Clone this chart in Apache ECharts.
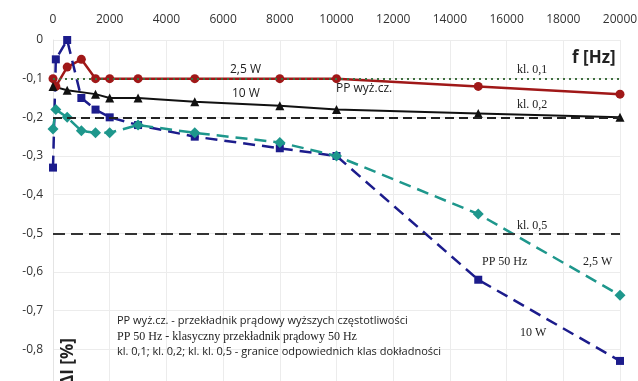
<!DOCTYPE html>
<html>
<head>
<meta charset="utf-8">
<script src="https://cdn.jsdelivr.net/npm/echarts@6/dist/echarts.min.js"></script>
<style>
  html, body { margin: 0; padding: 0; background: #fff; }
  #container1 { width: 638px; height: 381px; }
</style>
</head>
<body>
<div id="container1"></div>
<script>
// pomiary: f [Hz] i blad pradowy dI [%]
var wyzF25 = [0, 100, 500, 1000, 1500, 2000, 3000, 5000, 8000, 10000, 15000, 20000];
var wyzV25 = [-0.10, -0.12, -0.07, -0.05, -0.10, -0.10, -0.10, -0.10, -0.10, -0.10, -0.12, -0.14];

var wyzF10 = [0, 500, 1500, 2000, 3000, 5000, 8000, 10000, 15000, 20000];
var wyzV10 = [-0.12, -0.13, -0.14, -0.15, -0.15, -0.16, -0.17, -0.18, -0.19, -0.20];

var hz50F10 = [0, 100, 500, 1000, 1500, 2000, 3000, 5000, 8000, 10000, 15000, 20000];
var hz50V10 = [-0.33, -0.05, 0.0, -0.15, -0.18, -0.20, -0.22, -0.25, -0.28, -0.30, -0.62, -0.83];

var hz50F25 = [0, 100, 500, 1000, 1500, 2000, 3000, 5000, 8000, 10000, 15000, 20000];
var hz50V25 = [-0.23, -0.18, -0.20, -0.235, -0.24, -0.24, -0.22, -0.24, -0.265, -0.30, -0.45, -0.66];

var klasy = [-0.1, -0.2, -0.5];

function pary(f, v) {
    return f.map(function (x, i) { return [x, v[i]]; });
}

var dom = document.getElementById("container1");
var myChart = echarts.init(dom);

var serif = '"Liberation Serif", "DejaVu Serif", serif';
var sans = '"Open Sans", "DejaVu Sans", sans-serif';

function napis(x, y, t, font, size, extra) {
    var s = { text: t, fill: '#222', font: (extra || '') + ' ' + size + 'px ' + font };
    return { type: 'text', left: x, top: y, style: s, z: 10 };
}

var option = {
    animation: false,
    grid: { left: 53, right: 18, top: 40, height: 348, outerBoundsMode: 'none' },
    xAxis: {
        type: 'value', position: 'top', min: 0, max: 20000, interval: 2000,
        axisLine: { show: false }, axisTick: { show: false },
        axisLabel: {
            color: '#333', fontSize: 12, fontFamily: sans, margin: 14,
            formatter: function (v) { return String(v); }
        },
        splitLine: { lineStyle: { color: '#ececec' } }
    },
    yAxis: {
        type: 'value', min: -0.9, max: 0, interval: 0.1,
        axisLine: { show: true, onZero: false, lineStyle: { color: '#e4e4e4' } },
        axisTick: { show: false },
        axisLabel: {
            color: '#333', fontSize: 12, fontFamily: sans, margin: 10,
            formatter: function (v) { return Math.abs(v) < 1e-9 ? '0' : v.toFixed(1).replace('.', ','); }
        },
        splitLine: { lineStyle: { color: '#ececec' } }
    },
    series: [
        {
            name: 'granice', type: 'line', data: [], silent: true,
            markLine: {
                symbol: 'none', label: { show: false },
                data: [
                    { yAxis: klasy[0], lineStyle: { color: '#3f6f3f', type: [2, 4], width: 2 } },
                    { yAxis: klasy[1], lineStyle: { color: '#222', type: [9, 5], width: 2 } },
                    { yAxis: klasy[2], lineStyle: { color: '#333', type: [12, 6], width: 2 } }
                ]
            }
        },
        {
            name: 'PP wyz.cz. 2,5 W', type: 'line', data: pary(wyzF25, wyzV25),
            symbol: 'circle', symbolSize: 9,
            lineStyle: { color: '#a01818', width: 2.5 }, itemStyle: { color: '#a01818' }
        },
        {
            name: 'PP wyz.cz. 10 W', type: 'line', data: pary(wyzF10, wyzV10),
            symbol: 'triangle', symbolSize: 9,
            lineStyle: { color: '#111', width: 2 }, itemStyle: { color: '#111' }
        },
        {
            name: 'PP 50 Hz 10 W', type: 'line', data: pary(hz50F10, hz50V10),
            symbol: 'rect', symbolSize: 8,
            lineStyle: { color: '#1c1c8c', width: 2.5, type: [12, 7] }, itemStyle: { color: '#1c1c8c' }
        },
        {
            name: 'PP 50 Hz 2,5 W', type: 'line', data: pary(hz50F25, hz50V25),
            symbol: 'diamond', symbolSize: 11,
            lineStyle: { color: '#1e978c', width: 2.5, type: [12, 7] }, itemStyle: { color: '#1e978c' }
        }
    ],
    graphic: [
        napis(572, 50, 'f [Hz]', sans, 17, 'bold'),
        napis(230, 64, '2,5 W', sans, 12),
        napis(232, 88, '10 W', sans, 12),
        napis(336, 83, 'PP wyż.cz.', sans, 12),
        napis(517, 64, 'kl. 0,1', serif, 12),
        napis(517, 99, 'kl. 0,2', serif, 12),
        napis(517, 220, 'kl. 0,5', serif, 12),
        napis(482, 256, 'PP 50 Hz', serif, 12),
        napis(583, 256, '2,5 W', serif, 12),
        napis(520, 327, '10 W', serif, 12),
        napis(117, 315, 'PP wyż.cz. - przekładnik prądowy wyższych częstotliwości', sans, 11),
        napis(117, 331, 'PP 50 Hz - klasyczny przekładnik prądowy 50 Hz', serif, 12),
        napis(117, 346, 'kl. 0,1; kl. 0,2; kl. kl. 0,5 - granice odpowiednich klas dokładności', sans, 11),
        {
            type: 'text', x: 68, y: 362, rotation: Math.PI / 2, z: 10,
            style: { text: 'ΔI [%]', fill: '#222', font: 'bold 17px ' + sans, align: 'center', verticalAlign: 'middle' }
        }
    ]
};

myChart.setOption(option, true);
</script>
</body>
</html>
